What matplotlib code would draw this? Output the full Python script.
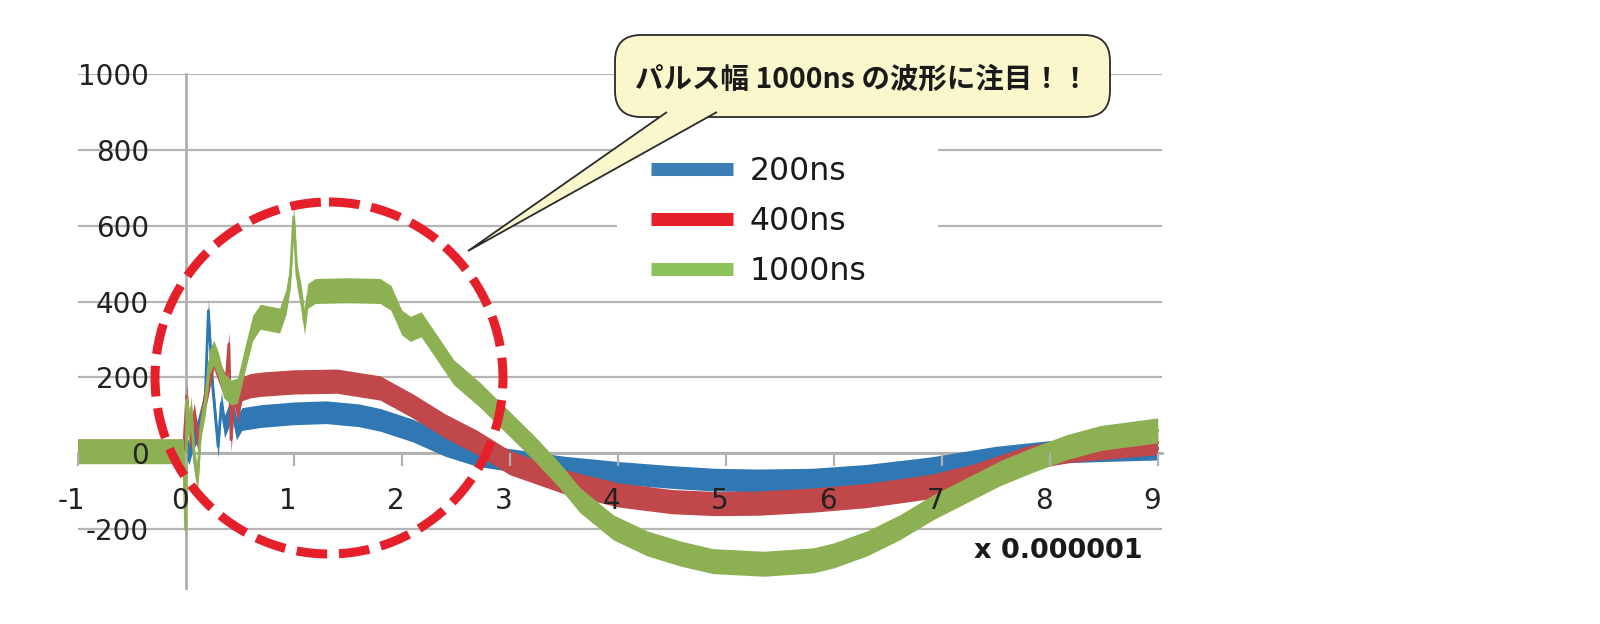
import numpy as np
import matplotlib
matplotlib.use("Agg")
import matplotlib.pyplot as plt
from matplotlib.patches import Ellipse, FancyBboxPatch, Polygon, Rectangle
from matplotlib.lines import Line2D
from matplotlib.transforms import Affine2D, ScaledTranslation

plt.rcParams['axes.unicode_minus'] = False

# waveforms (time in us, value)
t_200 = [-1.0, -0.5, -0.02, 0.0, 0.03, 0.07, 0.11, 0.15, 0.18, 0.21, 0.25, 0.30, 0.33, 0.36,
         0.43, 0.47, 0.52, 0.7, 1.0, 1.3, 1.6, 1.8, 2.1, 2.4, 2.7, 3.0, 3.5, 4.0, 4.5, 4.9,
         5.3, 5.8, 6.3, 6.9, 7.5, 8.0, 8.5, 9.0]
v_200 = [5, 5, 5, 20, 0, 40, 60, 105, 140, 376, 175, 18, 132, 70,
         122, 65, 90, 98, 105, 108, 100, 88, 60, 22, -5, -18, -38, -52, -63, -70,
         -72, -70, -60, -40, -12, 3, 8, 12]

t_400 = [-1.0, -0.5, -0.02, 0.01, 0.04, 0.08, 0.12, 0.16, 0.2, 0.26, 0.33, 0.37, 0.40, 0.42,
         0.45, 0.48, 0.52, 0.6, 0.7, 1.0, 1.4, 1.8, 2.1, 2.4, 2.7, 3.0, 3.5, 4.0, 4.5, 4.9,
         5.3, 5.8, 6.3, 6.9, 7.3, 7.8, 8.2, 8.6, 9.0]
v_400 = [5, 5, 5, 150, 40, 100, 20, 120, 170, 255, 200, 175, 288, 35,
         160, 110, 170, 178, 182, 188, 190, 172, 125, 72, 28, -25, -75, -110, -128, -133,
         -132, -124, -112, -88, -60, -12, 8, 18, 28]

t_1000 = [-1.0, -0.5, -0.02, 0.0, 0.01, 0.03, 0.05, 0.08, 0.11, 0.14, 0.18, 0.22, 0.26, 0.30,
          0.35, 0.42, 0.48, 0.55, 0.62, 0.69, 0.78, 0.87, 0.93, 0.97, 1.0, 1.03, 1.07, 1.10,
          1.13, 1.2, 1.5, 1.8, 1.9, 2.0, 2.08, 2.18, 2.3, 2.48, 2.72, 2.97, 3.22, 3.45, 3.65,
          3.96, 4.27, 4.58, 4.88, 5.35, 5.81, 6.0, 6.31, 6.61, 6.92, 7.23, 7.54, 7.84, 8.16,
          8.47, 9.0]
v_1000 = [5, 5, 5, -202, 140, 50, 120, -20, -70, 70, 130, 240, 265, 235,
          180, 160, 165, 250, 330, 360, 355, 350, 400, 470, 623, 470, 410, 345,
          415, 428, 430, 428, 410, 345, 328, 340, 290, 214, 155, 85, 15, -55, -124,
          -196, -238, -265, -285, -292, -283, -270, -238, -196, -143, -98, -53, -18, 16,
          40, 60]

labels = ['200ns', '400ns', '1000ns']
yticks = [-200, 0, 200, 400, 600, 800, 1000]
xticks = [-1, 0, 1, 2, 3, 4, 5, 6, 7, 8, 9]

line_colors = ['#2f78b4', '#c0474a', '#8db152']
legend_colors = ['#3c7eb5', '#e62129', '#8cc35a']
band = [60, 64, 66]  # thickness of the noisy trace

W, H = 1600, 624
fig = plt.figure(figsize=(16, 6.24), dpi=100)
ax = fig.add_axes([77.7 / W, 1 - 588 / H, (1162 - 77.7) / W, (588 - 74.3) / H])
pix = Affine2D().scale(1 / W, -1 / H).translate(0, 1) + fig.transFigure

series = [(t_200, v_200), (t_400, v_400), (t_1000, v_1000)]
for (t, v), c, b in zip(series, line_colors, band):
    t = np.array(t)
    v = np.array(v, dtype=float)
    ax.fill_between(t, v - b / 2, v + b / 2, color=c, lw=0, zorder=2)
    ax.plot(t, v, color=c, lw=2, zorder=2)

ax.set_xlim(-1, 9.04)
ax.set_ylim(-356, 1000)
ax.set_xticks(xticks)
ax.set_yticks(yticks)

# gridlines drawn by hand so tick labels can sit above the traces
for yv in yticks:
    ax.axhline(yv, color='#b5b5b5', lw=1.6, zorder=0.5)
ax.xaxis.set_zorder(3)
ax.yaxis.set_zorder(3)

for s in ['top', 'right']:
    ax.spines[s].set_visible(False)
ax.spines['left'].set_position(('data', 0))
ax.spines['bottom'].set_position(('data', 0))
for s in ['left', 'bottom']:
    ax.spines[s].set_color('#b0b0b0')
    ax.spines[s].set_linewidth(2)
    ax.spines[s].set_zorder(1)

ax.tick_params(axis='y', length=0, pad=26.6, labelsize=20, labelcolor='#222222')
ax.tick_params(axis='x', length=9.4, width=1.6, color='#b0b0b0', direction='out',
               pad=15, labelsize=20, labelcolor='#222222')
shift = ScaledTranslation(-6 / 100, 0, fig.dpi_scale_trans)
for lab in ax.get_xticklabels():
    lab.set_transform(lab.get_transform() + shift)

ax.text(1143, 551, 'x 0.000001', transform=pix, ha='right', va='center',
        fontsize=19.5, fontweight='bold', color='#1a1a1a')

# legend on a white patch that hides the gridlines
ax.add_patch(Rectangle((617, 125), 321, 165, transform=pix, facecolor='white',
                       edgecolor='none', zorder=1.5, clip_on=False))
handles = [Line2D([], [], color=c, lw=9.4, solid_capstyle='butt') for c in legend_colors]
leg = ax.legend(handles, labels, loc='upper left', bbox_to_anchor=(651, 156),
                bbox_transform=pix, frameon=False, borderpad=0, borderaxespad=0,
                fontsize=22.7, handlelength=2.6, handletextpad=0.54, labelspacing=0.6)
for txt in leg.get_texts():
    txt.set_color('#1a1a1a')
leg.set_zorder(5)

# red dashed circle
ax.add_patch(Ellipse((329, 378), 348, 352, transform=pix, fill=False, edgecolor='#e5202b',
                     lw=6.5, linestyle=(0, (3.4, 1.3)), zorder=4, clip_on=False))

# speech bubble
ax.add_patch(FancyBboxPatch((615, 35), 495, 82, boxstyle='round,pad=0,rounding_size=26',
                            transform=pix, facecolor='#fbf7cc', edgecolor='#2a2a2a',
                            lw=1.3, zorder=6, clip_on=False))
ax.add_patch(Polygon([(667, 112), (468, 251), (717, 112)], closed=False, transform=pix,
                     facecolor='#fbf7cc', edgecolor='#2a2a2a', lw=1.3, zorder=6.5,
                     clip_on=False))
ax.text(862, 80, 'パルス幅 1000ns の波形に注目！！', transform=pix, ha='center', va='center',
        fontsize=20.5, fontweight='bold', color='#1a1a1a', zorder=7,
        family=['Noto Sans CJK JP', 'DejaVu Sans'])

fig.savefig('out.png', dpi=100)
